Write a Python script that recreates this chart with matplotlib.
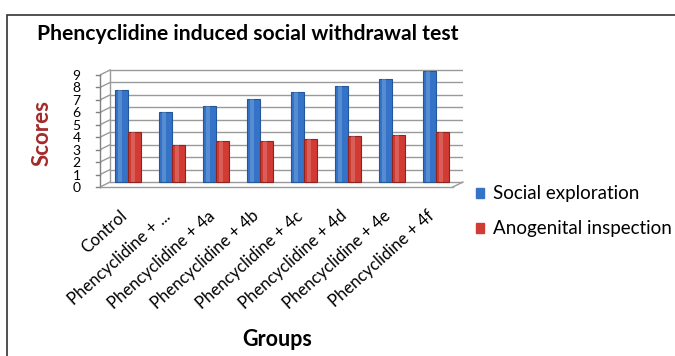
import matplotlib
matplotlib.use('Agg')
import matplotlib.pyplot as plt
import matplotlib.patches as mpatches
import matplotlib.transforms as mtransforms
import numpy as np

plt.rcParams['font.family'] = ['Lato', 'DejaVu Sans']

groups = ['Control', 'Phencyclidine + ...', 'Phencyclidine + 4a', 'Phencyclidine + 4b',
          'Phencyclidine + 4c', 'Phencyclidine + 4d', 'Phencyclidine + 4e', 'Phencyclidine + 4f']
social = [7.4, 5.65, 6.1, 6.7, 7.2, 7.7, 8.3, 8.9]
anogenital = [4.0, 2.97, 3.3, 3.3, 3.45, 3.67, 3.78, 4.0]
yticks = list(range(10))

blue = '#3473c8'
red = '#d13b33'

fig = plt.figure(figsize=(6.75, 3.56), dpi=100)
ax = fig.add_axes([100 / 675, 1 - 187 / 356, 363 / 675, 122 / 356])

x0, x1 = -0.64, -0.64 + 363 / 44
ax.set_xlim(x0, x1)
ax.set_ylim(-0.4, 9.4)
dx = 0.23   # depth offset in x (data units)
dy = 0.4    # depth offset in y

# back wall gridlines + side wall slants
for v in yticks:
    ax.plot([x0 + dx, x1], [v, v], color='#9a9a9a', lw=1, zorder=1)
    ax.plot([x0, x0 + dx], [v - dy, v], color='#9a9a9a', lw=1, zorder=1)
    ax.plot([x0 - 0.1, x0], [v - dy, v - dy], color='#808080', lw=1, clip_on=False)
ax.plot([x0 + dx, x0 + dx], [0, 9], color='#9a9a9a', lw=1, zorder=1)
ax.plot([x0, x0], [-dy, 9 - dy], color='#808080', lw=1, clip_on=False)
ax.plot([x0, x1 - dx], [-dy, -dy], color='#9a9a9a', lw=1, clip_on=False)
ax.plot([x1 - dx, x1], [-dy, 0], color='#9a9a9a', lw=1, clip_on=False)

x = np.arange(len(groups))
w = 0.29
ax.bar(x - w / 2, social, w, color=blue, edgecolor='#24569a', lw=0.8, zorder=3)
ax.bar(x + w / 2, anogenital, w, color=red, edgecolor='#8e2420', lw=0.8, zorder=3)
# cylinder highlight
ax.bar(x - w / 2 - w * 0.12, social, w * 0.3, color='white', alpha=0.18, lw=0, zorder=4)
ax.bar(x + w / 2 - w * 0.12, anogenital, w * 0.3, color='white', alpha=0.18, lw=0, zorder=4)

for s in ax.spines.values():
    s.set_visible(False)
ax.set_yticks([v - dy for v in yticks])
ax.set_yticklabels([str(v) for v in yticks], fontsize=10)
ax.tick_params(axis='y', length=0, pad=14)
ax.set_xticks(x)
ax.set_xticklabels(groups, rotation=42, ha='right', va='top', rotation_mode='anchor', fontsize=12)
ax.tick_params(axis='x', length=0, pad=15)
shift = mtransforms.ScaledTranslation(-9 / 100, 0, fig.dpi_scale_trans)
for lab in ax.get_xticklabels():
    lab.set_transform(lab.get_transform() + shift)

fig.text(37 / 675, 1 - 34 / 356, 'Phencyclidine induced social withdrawal test',
         fontsize=15.2, fontweight='bold', va='center', ha='left')
fig.text(42 / 675, 1 - 133 / 356, 'Scores', rotation=90, fontsize=16, fontweight='bold',
         color='#a52a2a', ha='center', va='center')
fig.text(277 / 675, 1 - 340 / 356, 'Groups', fontsize=15.5, fontweight='bold',
         ha='center', va='center')

handles = [mpatches.Patch(color=blue, label='Social exploration'),
           mpatches.Patch(color=red, label='Anogenital inspection')]
fig.legend(handles=handles, loc='upper left', bbox_to_anchor=(468 / 675, 1 - 178 / 356),
           frameon=False, fontsize=13.5, handlelength=0.45, handleheight=0.45,
           handletextpad=0.5, labelspacing=0.95, borderaxespad=0)

fig.add_artist(mpatches.Rectangle((7 / 675, -0.1), 1.2, 1 - 15 / 356 + 0.1,
                                  transform=fig.transFigure, fill=False,
                                  edgecolor='#333333', lw=1.2))

fig.savefig('out.png', dpi=100)
